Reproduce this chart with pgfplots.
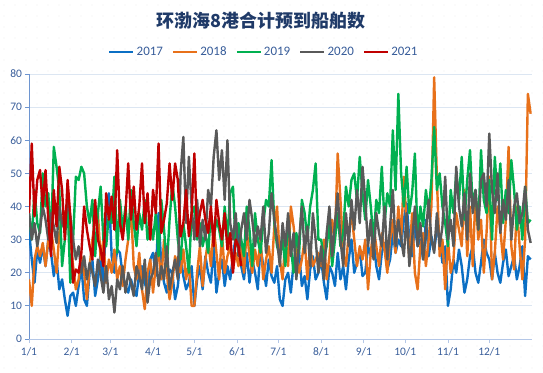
\documentclass[border=0pt]{standalone}
\usepackage{fontspec}
\setmainfont{Carlito}
\newfontfamily\cjk{Noto Sans CJK SC}
\usepackage{pgfplots}
\pgfplotsset{compat=1.18}
\definecolor{cA}{HTML}{0B6FC4}
\definecolor{cB}{HTML}{E8711A}
\definecolor{cC}{HTML}{00B050}
\definecolor{cD}{HTML}{595959}
\definecolor{cE}{HTML}{C00000}
\definecolor{gridc}{HTML}{DCE6F2}
\definecolor{xaxc}{HTML}{B4C7E7}
\definecolor{yaxc}{HTML}{6E95D0}
\definecolor{labc}{HTML}{385D9A}
\definecolor{titc}{HTML}{1F3A68}
\definecolor{dotc}{HTML}{D8D8D8}
\begin{document}
\begin{tikzpicture}[x=1bp,y=1bp]
\useasboundingbox (0,0) rectangle (543,372);
\fill[white] (0,0) rectangle (543,372);
\foreach \i in {0,...,49}{\foreach \j in {0,...,33}{\fill[dotc] (\i*11+4,\j*11+4) circle (0.45bp);}}
\node[font=\cjk\bfseries\fontsize{18}{21}\selectfont, text=titc] at (261,351) {环渤海8港合计预到船舶数};
\begin{axis}[
  at={(29bp,33bp)}, anchor=south west,
  width=503bp, height=265bp, scale only axis,
  xmin=0, xmax=365, ymin=0, ymax=80,
  ytick={0,10,...,80},
  xtick={0,31,59,90,120,151,181,212,243,273,304,334},
  xticklabels={1/1,2/1,3/1,4/1,5/1,6/1,7/1,8/1,9/1,10/1,11/1,12/1},
  axis x line*=bottom, axis y line*=left,
  x axis line style={-, draw=xaxc, line width=0.9bp},
  y axis line style={-, draw=yaxc, line width=0.9bp},
  tick align=outside, major tick length=4bp,
  xtick style={draw=xaxc, line width=0.9bp},
  ytick style={draw=yaxc, line width=0.9bp},
  ymajorgrids, grid style={draw=gridc, line width=0.9bp},
  /pgf/number format/assume math mode=true,
  ticklabel style={font=\fontsize{11.5}{13}\selectfont, text=labc},
  yticklabel style={xshift=0.5bp},
  xticklabel style={yshift=-1bp},
  legend style={at={(0.467,1.083)}, anchor=center, draw=none, fill=none,
    legend columns=5, font=\fontsize{13}{15}\selectfont, text=labc,
    /tikz/every even column/.append style={column sep=7bp}},
  legend image code/.code={\draw[#1] (0bp,0bp) -- (24bp,0bp);},
  every axis plot/.append style={line width=2.4bp, line join=round, no markers},
]
\addplot[cA] table[x expr=\coordindex*2, y index=0, row sep=\\] {v\\
33\\24\\17\\27\\23\\28\\22\\30\\26\\19\\24\\15\\18\\12\\7\\13\\
14\\10\\16\\22\\12\\10\\20\\24\\13\\18\\26\\15\\40\\44\\
25\\20\\27\\26\\19\\16\\14\\18\\15\\13\\20\\22\\17\\14\\24\\
26\\19\\38\\22\\17\\14\\21\\20\\12\\16\\25\\19\\15\\17\\22\\
10\\18\\22\\15\\25\\20\\17\\28\\14\\20\\24\\16\\22\\18\\25\\31\\
32\\22\\18\\26\\17\\24\\20\\15\\28\\22\\16\\24\\19\\17\\22\\
12\\10\\18\\20\\14\\23\\22\\26\\16\\19\\12\\21\\25\\18\\20\\
24\\17\\12\\22\\20\\16\\26\\18\\22\\15\\24\\30\\20\\23\\27\\19\\
20\\28\\25\\30\\22\\18\\26\\29\\21\\24\\32\\26\\30\\28\\36\\
41\\30\\25\\34\\28\\30\\24\\36\\25\\31\\27\\33\\30\\23\\28\\
10\\15\\24\\20\\27\\22\\14\\18\\25\\28\\20\\17\\23\\30\\26\\
24\\18\\26\\20\\17\\23\\27\\19\\22\\25\\18\\22\\28\\13\\25\\24\\
};
\addplot[cB] table[x expr=\coordindex*2, y index=0, row sep=\\] {v\\
18\\10\\24\\28\\25\\29\\22\\30\\33\\27\\20\\32\\36\\38\\40\\30\\
22\\15\\18\\25\\20\\12\\22\\30\\36\\38\\24\\30\\17\\24\\
20\\27\\18\\22\\16\\24\\30\\40\\22\\18\\26\\15\\9\\20\\24\\
14\\22\\26\\18\\30\\20\\12\\17\\25\\22\\20\\27\\18\\23\\10\\
10\\20\\28\\16\\24\\30\\22\\34\\26\\18\\32\\20\\25\\28\\21\\26\\
22\\28\\20\\33\\25\\20\\27\\22\\30\\18\\24\\28\\20\\34\\40\\
24\\18\\30\\22\\40\\34\\26\\20\\24\\30\\18\\28\\22\\24\\26\\
22\\30\\18\\25\\36\\30\\56\\42\\26\\22\\32\\38\\30\\22\\28\\24\\
30\\15\\26\\34\\28\\22\\32\\27\\20\\30\\36\\26\\40\\30\\49\\
35\\24\\38\\20\\15\\28\\32\\22\\30\\40\\79\\48\\25\\30\\15\\
30\\20\\24\\38\\33\\28\\45\\25\\40\\22\\44\\30\\36\\20\\32\\
49\\18\\26\\40\\33\\24\\36\\58\\28\\21\\40\\28\\18\\30\\74\\68\\
};
\addplot[cC] table[x expr=\coordindex*2, y index=0, row sep=\\] {v\\
38\\30\\45\\35\\32\\50\\40\\44\\30\\58\\52\\45\\22\\30\\41\\17\\
30\\49\\48\\52\\50\\40\\35\\42\\25\\38\\46\\30\\28\\38\\
35\\49\\26\\42\\33\\40\\30\\45\\35\\28\\38\\33\\42\\30\\35\\
30\\38\\25\\42\\33\\22\\36\\47\\40\\30\\24\\35\\28\\20\\38\\
40\\30\\35\\28\\32\\26\\38\\30\\36\\33\\28\\40\\30\\44\\46\\28\\
35\\30\\25\\40\\33\\22\\38\\30\\26\\35\\42\\40\\54\\35\\28\\
25\\30\\22\\36\\28\\20\\32\\26\\42\\38\\30\\40\\45\\53\\30\\
30\\24\\28\\35\\22\\30\\38\\28\\32\\46\\40\\48\\50\\42\\55\\44\\
36\\48\\40\\30\\42\\38\\52\\35\\44\\40\\63\\45\\74\\50\\40\\
52\\38\\44\\56\\30\\40\\34\\45\\38\\48\\64\\45\\50\\40\\35\\
28\\45\\38\\50\\42\\55\\36\\48\\57\\40\\45\\33\\57\\42\\38\\
48\\30\\55\\42\\53\\35\\45\\38\\54\\45\\33\\40\\30\\46\\35\\36\\
};
\addplot[cD] table[x expr=\coordindex*2, y index=0, row sep=\\] {v\\
38\\30\\35\\28\\33\\40\\36\\30\\38\\34\\29\\40\\35\\33\\42\\37\\
30\\24\\28\\20\\25\\18\\23\\20\\16\\24\\19\\14\\22\\12\\
16\\8\\18\\15\\22\\14\\20\\17\\13\\22\\19\\15\\24\\11\\18\\
20\\26\\16\\22\\18\\28\\15\\20\\24\\18\\50\\61\\35\\55\\40\\
30\\42\\28\\36\\30\\45\\40\\55\\63\\48\\57\\42\\60\\35\\30\\38\\
25\\33\\38\\30\\42\\36\\28\\34\\30\\40\\26\\32\\44\\36\\30\\
22\\35\\28\\38\\25\\32\\18\\30\\40\\26\\34\\22\\38\\30\\20\\
28\\18\\32\\40\\25\\35\\44\\30\\22\\38\\28\\42\\33\\45\\35\\52\\
42\\28\\36\\24\\38\\32\\28\\40\\24\\34\\45\\28\\36\\30\\25\\
38\\22\\30\\40\\28\\35\\24\\32\\42\\30\\26\\38\\28\\34\\49\\
30\\36\\28\\52\\40\\34\\44\\30\\50\\38\\45\\33\\48\\50\\40\\
62\\45\\38\\50\\32\\42\\36\\48\\30\\40\\44\\35\\38\\46\\33\\29\\
};
\addplot[cE] table[x expr=\coordindex*2, y index=0, row sep=\\] {v\\
38\\59\\37\\48\\51\\40\\51\\36\\25\\45\\34\\52\\45\\30\\48\\37\\
17\\21\\20\\26\\40\\33\\28\\24\\42\\30\\27\\22\\44\\36\\
43\\33\\57\\35\\30\\38\\53\\36\\46\\33\\40\\53\\35\\44\\30\\
45\\38\\59\\32\\36\\41\\53\\42\\53\\48\\31\\35\\45\\31\\38\\
56\\31\\38\\42\\36\\32\\40\\28\\42\\35\\30\\38\\27\\32\\20\\30\\
28\\22\\
};
\legend{2017,2018,2019,2020,2021}
\end{axis}
\end{tikzpicture}
\end{document}
